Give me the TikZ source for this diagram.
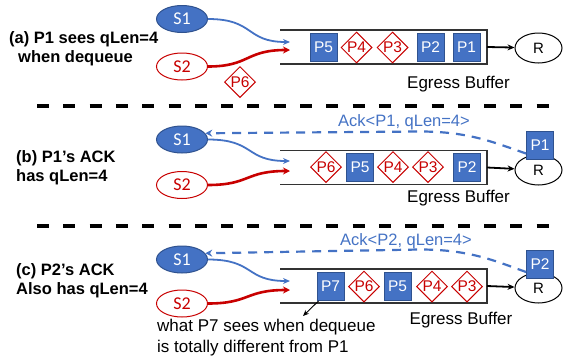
\documentclass[tikz,border=0pt]{standalone}
\usepackage{fontspec}
\setmainfont{Liberation Sans}
\newfontfamily\calibri{Carlito}
\usetikzlibrary{arrows.meta,shapes.geometric}
\definecolor{pblue}{RGB}{68,114,196}
\definecolor{pbdark}{RGB}{47,82,143}
\definecolor{pred}{RGB}{200,0,0}

\begin{document}
\begin{tikzpicture}[x=1pt,y=-1pt,
  blk/.style={rectangle,fill=pblue,draw=pbdark,line width=0.8pt,text=white,minimum width=27pt,minimum height=28pt,inner sep=0pt,font=\fontsize{15.5}{17}\selectfont},
  dmd/.style={diamond,fill=white,draw=pred,line width=1pt,text=pred,minimum width=31pt,minimum height=31pt,inner sep=0pt,font=\fontsize{15.5}{17}\selectfont},
  snd/.style={ellipse,minimum width=51pt,minimum height=27pt,inner sep=0pt,line width=1pt,font=\calibri\fontsize{18}{20}\selectfont},
  rcv/.style={ellipse,draw=black,fill=white,line width=1pt,minimum width=47pt,minimum height=30pt,inner sep=0pt,font=\fontsize{15}{17}\selectfont},
  bufbox/.style={rectangle,minimum width=207pt,minimum height=34pt,inner sep=0pt,outer sep=0pt},
  buf/.style={draw=black!80,line width=1.6pt},
  lbl/.style={anchor=west,inner sep=0pt,align=left,font=\bfseries\fontsize{16.5}{19}\selectfont},
  txt/.style={inner sep=0pt,font=\fontsize{17}{21}\selectfont},
  upl/.style={draw=pblue,line width=1.8pt,-{Stealth[length=7pt,width=6pt]}},
  dnl/.style={draw=pred,line width=2.6pt,-{Stealth[length=7pt,width=7pt]}},
  ackln/.style={draw=pblue,line width=2.2pt,dash pattern=on 9pt off 7pt,-{Stealth[length=7pt,width=7pt]}},
  sep/.style={draw=black,line width=4.5pt,dash pattern=on 12pt off 14.3pt}
]
\useasboundingbox (0,0) rectangle (563,362);

% (a)
\draw (9,49) node[lbl] (la) {(a) P1 sees qLen=4\\\hspace*{9pt}when dequeue};
\draw (182,19) node[snd,fill=pblue,draw=pbdark,text=white] (s1a) {S1};
\draw (182,66.5) node[snd,fill=white,draw=pred,text=pred] (s2a) {S2};
\draw (383.5,47) node[bufbox] (bufa) {};
\draw[buf] (bufa.north west) -- (bufa.north east) -- (bufa.south east) -- (bufa.south west);
\draw (323.5,47.5) node[blk] (a5) {P5};
\draw (356.5,47.5) node[dmd] (a4) {P4};
\draw (392.5,47.5) node[dmd] (a3) {P3};
\draw (430.5,47.5) node[blk] (a2) {P2};
\draw (466.5,47.5) node[blk] (a1) {P1};
\draw (538.5,48) node[rcv] (ra) {R};
\draw (240,82) node[dmd] (a6) {P6};
\draw (458.5,84) node[txt] (ega) {Egress Buffer};
\coordinate (ina1) at (290,42);
\coordinate (ina2) at (290,50);
\draw[upl] (s1a.east) .. controls (255,19) and (245,42) .. (ina1);
\draw[dnl] (s2a.east) .. controls (250,66.5) and (245,50) .. (ina2);
\draw[black,line width=1.8pt,-{Stealth[length=7pt,width=6pt]}] (bufa.east) -- (ra);

\coordinate (sa) at (37,106);
\coordinate (sb) at (563,106);
\draw[sep] (sa) -- (sb);

% (b)
\draw (16,167.5) node[lbl] (lb) {(b) P1's ACK\\has qLen=4};
\draw (182,139.5) node[snd,fill=pblue,draw=pbdark,text=white] (s1b) {S1};
\draw (182,185) node[snd,fill=white,draw=pred,text=pred] (s2b) {S2};
\draw (383.5,167.5) node[bufbox] (bufb) {};
\draw[buf] (bufb.north west) -- (bufb.north east) -- (bufb.south east) -- (bufb.south west);
\draw (326,167) node[dmd] (b6) {P6};
\draw (360,167) node[blk] (b5) {P5};
\draw (393,167) node[dmd] (b4) {P4};
\draw (428,167) node[dmd] (b3) {P3};
\draw (467,167) node[blk] (b2) {P2};
\draw (538.5,170) node[rcv] (rb) {R};
\draw (540,145.5) node[blk] (b1) {P1};
\draw (458.5,198.5) node[txt] (egb) {Egress Buffer};
\coordinate (inb1) at (290,161);
\coordinate (inb2) at (290,171);
\draw[upl] (s1b.east) .. controls (255,139.5) and (245,161) .. (inb1);
\draw[dnl] (s2b.east) .. controls (250,185) and (245,171) .. (inb2);
\draw[black,line width=1.8pt,-{Stealth[length=7pt,width=6pt]}] (bufb.east) -- (rb);
\draw[ackln] ([yshift=-8pt]b1.west) .. controls (495,143) and (470,131.5) .. (420,131.5) -- (s1b.15);
\draw (404,122) node[txt,text=pblue,font=\fontsize{16.5}{19}\selectfont] (ackb) {Ack<P1, qLen=4>};

\coordinate (sc) at (37,226);
\coordinate (sd) at (563,226);
\draw[sep] (sc) -- (sd);

% (c)
\draw (16,281) node[lbl] (lc) {(c) P2's ACK\\Also has qLen=4};
\draw (182,259.5) node[snd,fill=pblue,draw=pbdark,text=white] (s1c) {S1};
\draw (182,303.5) node[snd,fill=white,draw=pred,text=pred] (s2c) {S2};
\draw (383.5,286) node[bufbox] (bufc) {};
\draw[buf] (bufc.north west) -- (bufc.north east) -- (bufc.south east) -- (bufc.south west);
\draw (330.5,286.5) node[blk] (c7) {P7};
\draw (364,286.5) node[dmd] (c6) {P6};
\draw (397.5,286.5) node[blk] (c5) {P5};
\draw (432,286.5) node[dmd] (c4) {P4};
\draw (467,286.5) node[dmd] (c3) {P3};
\draw (538.5,288) node[rcv] (rc) {R};
\draw (540,264) node[blk] (c2) {P2};
\draw (461,320) node[txt] (egc) {Egress Buffer};
\coordinate (inc1) at (290,281);
\coordinate (inc2) at (290,290);
\draw[upl] (s1c.east) .. controls (255,259.5) and (245,281) .. (inc1);
\draw[dnl] (s2c.east) .. controls (250,303.5) and (245,290) .. (inc2);
\draw[black,line width=1.8pt,-{Stealth[length=7pt,width=6pt]}] (bufc.east) -- (rc);
\draw[ackln] ([yshift=-8pt]c2.west) .. controls (495,261) and (470,249.5) .. (420,249.5) -- (s1c.15);
\draw (406,241) node[txt,text=pblue,font=\fontsize{16.5}{19}\selectfont] (ackc) {Ack<P2, qLen=4>};
\draw (157,337.5) node[txt,anchor=west,align=left] (note) {what P7 sees when dequeue\\is totally different from P1};
\coordinate (nt) at (303,316);
\draw[black,line width=0.9pt,-{Stealth[length=6pt,width=5pt]}] ([xshift=2pt]c7.south west) -- (nt);

\end{tikzpicture}
\end{document}
